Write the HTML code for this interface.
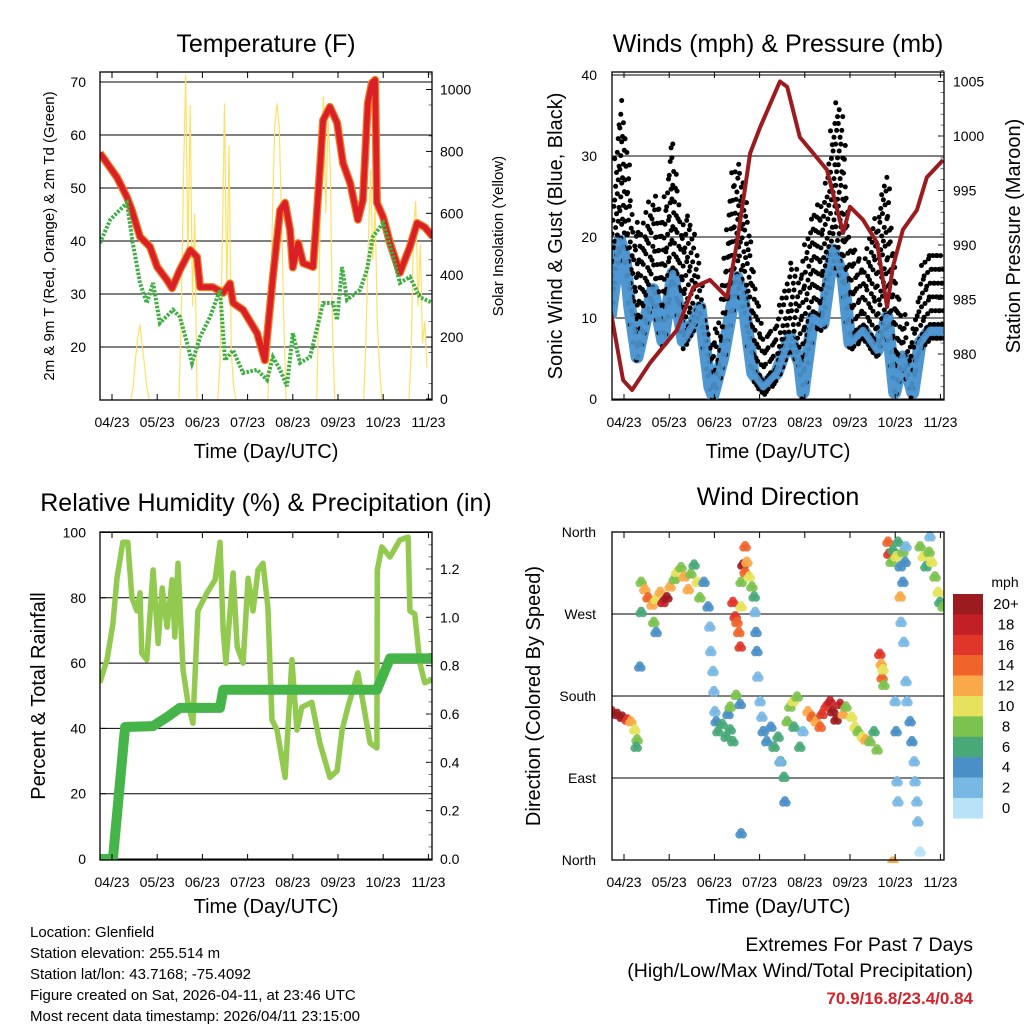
<!DOCTYPE html>
<html><head><meta charset="utf-8"><style>
html,body{margin:0;padding:0;background:#fff;}
svg{display:block;font-family:"Liberation Sans",Arial,sans-serif;}
</style></head><body>
<svg id="c" width="1024" height="1024" viewBox="0 0 1024 1024" xmlns="http://www.w3.org/2000/svg">
<rect width="1024" height="1024" fill="#fff"/>
</svg>
<script>
// ---------- DATA ----------
const dayLabels = ["04/23","05/23","06/23","07/23","08/23","09/23","10/23","11/23"];
const tempT = [-0.27,0.11,0.33,0.44,0.62,0.84,1.0,1.22,1.33,1.5,1.73,1.88,1.95,2.23,2.46,2.61,2.68,2.9,3.21,3.38,3.56,3.72,3.83,3.94,4.0,4.12,4.23,4.45,4.6,4.67,4.82,4.98,5.11,5.27,5.44,5.55,5.66,5.75,5.82,5.86,6.0,6.15,6.37,6.59,6.75,6.92,7.1];
const tempV = [56.6,52,48.3,45.8,40.8,38.9,35.1,32.6,31.1,34.5,38.3,37,31.3,31.3,30.2,32,28.3,27,22.6,17.5,33.2,45.8,47.2,42,35,39.6,35.8,35.1,53.4,62.8,65.3,62.3,54.7,50.9,44,47.7,66,69.8,70.4,47.2,44.5,39.6,34,38.9,43.4,42.6,40.8];
const dewT = [-0.27,-0.04,0.33,0.46,0.62,0.77,0.91,1.06,1.35,1.5,1.66,1.77,1.95,2.17,2.39,2.5,2.68,2.9,3.21,3.43,3.56,3.72,3.87,4.0,4.16,4.38,4.67,4.89,4.98,5.09,5.2,5.49,5.64,5.77,6.0,6.22,6.37,6.59,6.81,7.1];
const dewV = [39.6,44,47.2,39.6,32.1,28.3,32.1,24.5,27,25.7,20.8,17,21.9,25.7,30.8,17.5,19.4,15.1,15.7,13.8,18.1,15.7,12.6,22.6,17,18.1,28.3,28.3,25.1,35.1,28.9,30.8,34.5,40.8,43.4,37,32.1,33.2,29.4,28.3];
const solarPeaks = [0.62,1.68,2.54,3.65,4.73,5.77,6.77];
const solarDays = [[0,40,130,200,240,170,110,40,0],[0,250,700,1050,450,950,300,600,0],[0,120,500,955,350,820,150,40,0],[0,250,600,880,955,880,600,250,0],[0,350,800,980,600,900,750,200,0],[0,200,500,740,450,620,250,100,0],[0,150,550,640,300,500,180,250,100]];
const presT = [-0.31,-0.02,0.18,0.58,1.17,1.53,1.9,2.28,2.5,2.79,3.01,3.45,3.61,3.89,4.27,4.49,4.85,5.0,5.29,5.6,5.82,5.95,6.17,6.48,6.7,7.06];
const presV = [984.3,977.6,976.7,979.2,982.2,986.1,986.8,985.2,990.2,998.4,1000.8,1005,1004.5,999.9,998,996.9,991.1,993.5,992.3,990.2,984.3,988,991.4,993.2,996.2,997.8];
const windT = [-0.31,-0.09,0.02,0.13,0.29,0.42,0.64,0.86,1.08,1.31,1.53,1.68,1.9,1.97,2.19,2.5,2.63,2.85,3.08,3.38,3.67,3.89,3.96,4.18,4.4,4.62,4.85,5.0,5.29,5.6,5.82,5.99,6.17,6.39,6.55,6.77,7.06];
const windV = [10,19.5,17.5,11.3,5.2,8.5,13.5,7.2,15.5,7.2,9.3,11.3,1.5,0.5,5.2,15,12.5,3.2,1.5,3.2,7.6,4.4,0.8,10.1,9.3,18.4,15,6.9,8.5,6,10.1,0.8,5.2,0.8,6.9,8.5,8.5];
const gustT = [-0.31,-0.09,0.07,0.2,0.42,0.64,0.86,1.06,1.24,1.46,1.68,1.9,2.12,2.41,2.63,2.85,3.08,3.38,3.67,3.89,4.12,4.4,4.71,4.85,5.0,5.29,5.6,5.82,6.04,6.33,6.55,6.77,7.06];
const gustV = [20,38,32,22,22,26,23.3,33,23.3,23,16,7.7,10.6,30,28,17.5,7.7,10.6,17.2,16,22.5,25,38.5,34,20,16.8,23.3,28.6,14.3,7.7,16,18.8,17.5];
const rhT = [-0.27,-0.11,0.02,0.11,0.24,0.35,0.44,0.55,0.62,0.66,0.77,0.91,1.02,1.11,1.22,1.33,1.39,1.46,1.57,1.68,1.79,1.9,2.1,2.28,2.39,2.46,2.52,2.68,2.77,2.9,3.01,3.12,3.23,3.34,3.45,3.54,3.65,3.83,3.98,4.09,4.2,4.42,4.6,4.82,4.98,5.09,5.22,5.44,5.71,5.86,5.87,5.97,6.15,6.37,6.55,6.59,6.7,6.81,6.92,7.1];
const rhV = [54,61,72,86,97,97,80,76,81.5,63,61,88.5,66,83,71,85.5,68,90.6,58,48,41.6,76,81.5,85.5,97,70,60,87.6,65,60,86,76,88.5,90.6,77,42.6,39.5,25,61,39.5,46.5,48,35.5,25,27,39.5,46.5,57,35.5,34,88.5,95.6,92.5,97.7,98.6,76,75,60,54,55];
const rainT = [-0.27,0.02,0.29,0.91,1.22,1.5,2.39,2.46,5.86,6.15,7.1];
const rainV = [0,0,0.546,0.55,0.587,0.625,0.625,0.70,0.70,0.83,0.83];
const dirT = [-0.27,-0.15,-0.04,0.07,0.15,0.24,0.29,0.27, 0.38,0.46,0.53,0.62,0.71,0.80,0.86,0.95,1.02,1.11,1.17,1.26,1.33,1.42,1.48,1.55,1.62,1.68,1.77,0.38,0.66,0.71,0.35, 1.86,1.90,1.92,1.97,1.99,2.01, 2.04,2.08,2.17,2.26,2.35,2.41,2.30,2.35,2.48,2.57, 2.41,2.46,2.50,2.54,2.57,2.59,2.59,2.63,2.68,2.68,2.72,2.77,2.83,2.88, 2.90,2.92,2.94,2.96,3.01,3.05, 3.08,3.16,3.25,3.32,3.41,3.47,3.54,3.56,3.45,3.61,3.67,3.74,3.83,3.76,3.89,3.96, 4.07,4.16,4.25,4.34,4.38,4.47,4.56,4.62,4.69,4.78,4.85,4.91, 5.04,5.11,5.18,5.27,5.35,5.44,5.53,5.60, 5.66,5.69,5.71,5.75,5.73, 5.84,5.86,5.91,5.95,6.02,6.06,6.11,6.17,6.22,6.24,6.11,6.17,5.95, 6.00,6.02,6.04,6.06,6.13,6.19,6.24,6.26,6.33,6.37,6.42,6.44,6.48,6.50,6.55, 6.55,6.62,6.68,6.75,6.81,6.88,6.95,6.99,7.06,6.77, 2.59];
const dirV = [165,162,159,156,154,145,134,126, 307,299,290,282,288,296,285,290,302,310,318,323,313,299,316,326,307,290,307,274,263,252,214, 280,258,231,209,187,165, 154,143,151,137,145,132,162,170,183,173, 285,269,263,252,236,280,307,326,318,346,329,313,302,291, 274,252,231,203,176,159, 143,132,148,126,137,110,93,66,110,154,170,176,181,148,126,143, 165,159,154,148,162,170,176,165,156,173,162,170, 159,148,143,137,134,132,143,123, 228,217,202,194,211, 351,338,329,342,335,351,324,340,329,346,291,307,0, 176,143,88,66,263,241,198,176,154,132,110,88,66,44,11, 346,335,324,340,329,313,296,285,280,357, 31];
const dirS = [18,20,20,16,12,10,8,6, 8,12,14,12,10,12,18,20,12,8,10,8,12,12,8,6,10,8,4,6,8,4,4, 4,2,2,2,2,2, 4,6,6,6,6,6,4,8,8,4, 16,16,14,14,16,10,8,20,14,14,12,10,8,6, 2,4,4,2,2,2, 4,4,4,6,6,6,6,4,2,8,8,10,8,6,6,2, 12,14,12,14,16,16,18,20,20,18,12,8, 10,10,8,10,12,8,6,8, 16,12,14,8,10, 14,16,8,6,10,6,4,8,4,2,12,4,12, 2,4,2,2,2,2,2,2,4,4,2,2,2,2,0, 8,10,6,8,10,8,10,6,8,2, 4];
const speedLabels = ["20+","18","16","14","12","10","8","6","4","2","0"];
const speedColors = ["#9b1b1e","#c21f27","#e0362a","#f0642a","#f9a94a","#e6e25c","#7cc24e","#48a878","#4a8fc6","#7ab8e4","#b8e2f7"];

// ---------- HELPERS ----------
const NS="http://www.w3.org/2000/svg";
const svg=document.getElementById('c');
function mk(tag,attrs,parent){const e=document.createElementNS(NS,tag);for(const k in attrs)e.setAttribute(k,attrs[k]);(parent||svg).appendChild(e);return e;}
function txt(s,x,y,size,anchor,parent,extra){const e=mk('text',Object.assign({x:x,y:y,'font-size':size,'text-anchor':anchor||'start',fill:'#000'},extra||{}),parent);e.textContent=s;return e;}
function grp(name){const g=mk('g',{});return g;}
function interp(ts,vs,t){if(t<=ts[0])return vs[0];for(let i=1;i<ts.length;i++){if(t<=ts[i]){const f=(t-ts[i-1])/(ts[i]-ts[i-1]);return vs[i-1]+f*(vs[i]-vs[i-1]);}}return vs[vs.length-1];}
function pathFrom(ts,vs,xf,yf){return ts.map((t,i)=>(i?'L':'M')+xf(t).toFixed(1)+','+yf(vs[i]).toFixed(1)).join(' ');}

function frame(L,T,R,B,name){
  const g=grp(name);
  mk('rect',{x:L,y:T,width:R-L,height:B-T,fill:'none',stroke:'#000','stroke-width':1.3},g);
  return g;
}
function xAxis(L,R,T,B,x0,title,name,titleOff){
  const g=grp(name);
  dayLabels.forEach((lab,i)=>{
    const x=x0+i*45.2;
    mk('line',{x1:x,y1:B,x2:x,y2:B-6,stroke:'#000','stroke-width':1},g);
    mk('line',{x1:x,y1:T,x2:x,y2:T+6,stroke:'#000','stroke-width':1},g);
    const t=txt(lab,x,B+27,14,'middle',g);
    
    
  });
  const tt=txt(title,(L+R)/2,B+titleOff,20,'middle',g);
  
  
}
function yTicks(vals,labels,yf,x,side,lx,g,grid,L,R){
  vals.forEach((v,i)=>{
    const y=yf(v);
    if(grid) mk('line',{x1:L,y1:y,x2:R,y2:y,stroke:'#000','stroke-width':1},g);
    mk('line',{x1:x,y1:y,x2:x+(side==='left'?6:-6),y2:y,stroke:'#000','stroke-width':1},g);
    const t=txt(labels[i],lx,y+5,14,side==='left'?'end':'start',g);
    
    
  });
}
function minorTicks(vals,yf,x,dir,g){vals.forEach(v=>{const y=yf(v);mk('line',{x1:x,y1:y,x2:x+dir*3.5,y2:y,stroke:'#555','stroke-width':0.8},g);});}
function vTitle(s,x,y,size,g){const t=txt(s,x,y,size,'middle',g,{transform:'rotate(-90 '+x+' '+y+')'});return t;}

// ---------- TITLES ----------
[["Temperature (F)",266,52,"temperature-title"],["Winds (mph) & Pressure (mb)",778,52,"winds-title"],["Relative Humidity (%) & Precipitation (in)",266,511,"humidity-title"],["Wind Direction",778,505,"wind-direction-title"]].forEach(a=>{
  const t=txt(a[0],a[1],a[2],25,'middle');
  
  
});

// ---------- PANEL 1: TEMPERATURE ----------
(function(){
  const L=100,R=432,T=72,B=400;
  const xf=t=>112+t*45.2, yL=v=>347-(v-20)*5.3, yR=v=>399-v*0.3095;
  const cp=mk('clipPath',{id:'cp1'});mk('rect',{x:L,y:T,width:R-L,height:B-T},cp);
  const ax=grp('temperature-axes');
  yTicks([20,30,40,50,60,70],["20","30","40","50","60","70"],yL,L,'left',86,ax,true,L,R);
  yTicks([0,200,400,600,800,1000],["0","200","400","600","800","1000"],yR,R,'right',440,ax,false);
  const mv=[];for(let v=50;v<1060;v+=100)mv.push(v);minorTicks(mv,yR,R,-1,ax);
  const d=grp('temperature-series');d.setAttribute('clip-path','url(#cp1)');
  let sp='';
  solarPeaks.forEach((p,di)=>{solarDays[di].forEach((v,k)=>{const t=p+(k-4)*0.05;sp+=(k?'L':'M')+xf(t).toFixed(1)+','+yR(v).toFixed(1)+' ';});});
  const s=mk('path',{d:sp,fill:'none',stroke:'#ffe066','stroke-width':1.2},d);
  
  
  const o=mk('path',{d:pathFrom(tempT,tempV,xf,yL),fill:'none',stroke:'#f47a20','stroke-width':8,'stroke-linejoin':'round'},d);
  
  
  const r=mk('path',{d:pathFrom(tempT,tempV,xf,yL),fill:'none',stroke:'#d92027','stroke-width':5.5,'stroke-linejoin':'round'},d);
  
  
  const gd=mk('path',{d:pathFrom(dewT,dewV,xf,yL),fill:'none',stroke:'#3fae43','stroke-width':4,'stroke-dasharray':'2.5 1.5'},d);
  
  
  frame(L,T,R,B,'temperature-frame');
  xAxis(L,R,T,B,112,'Time (Day/UTC)','temperature-x-axis',58);
  vTitle('2m & 9m T (Red, Orange) & 2m Td (Green)',54,236,15,ax);
  vTitle('Solar Insolation (Yellow)',503,236,15,ax);
})();

// ---------- PANEL 2: WINDS ----------
(function(){
  const L=612,R=944,T=72,B=400;
  const xf=t=>624+t*45.2, yL=v=>399-v*8.1, yR=p=>354-(p-980)*10.9;
  const cp=mk('clipPath',{id:'cp2'});mk('rect',{x:L,y:T,width:R-L,height:B-T},cp);
  const ax=grp('winds-axes');
  yTicks([0,10,20,30,40],["0","10","20","30","40"],yL,L,'left',597,ax,true,L,R);
  yTicks([980,985,990,995,1000,1005],["980","985","990","995","1000","1005"],yR,R,'right',953,ax,false);
  const mv=[];for(let p=977;p<=1006;p++)mv.push(p);minorTicks(mv,yR,R,-1,ax);
  const d=grp('winds-series');d.setAttribute('clip-path','url(#cp2)');
  const bl=mk('path',{d:pathFrom(windT,windV,xf,yL),fill:'none',stroke:'#4f97d1','stroke-width':13,'stroke-linejoin':'round'},d);
  
  
  const dots=grp('gust-points');d.appendChild(dots);
  let k=0;
  for(let px=L+1;px<R;px+=2.6){
    const t=(px-624)/45.2;const w=interp(windT,windV,t), gv=interp(gustT,gustV,t);
    for(let v=w-1;v<=gv;v+=1.7){k++;mk('circle',{cx:(px+((k%3)-1)*0.9).toFixed(1),cy:yL(v).toFixed(1),r:2.5,fill:'#000'},dots);}
  }
  mk('path',{d:pathFrom(windT,windV,xf,yL),fill:'none',stroke:'#4f97d1','stroke-width':7,'stroke-linejoin':'round','opacity':0.9},d);
  const pr=mk('path',{d:pathFrom(presT,presV,xf,yR),fill:'none',stroke:'#9b1b1e','stroke-width':4,'stroke-linejoin':'round'},d);
  
  
  frame(L,T,R,B,'winds-frame');
  xAxis(L,R,T,B,624,'Time (Day/UTC)','winds-x-axis',58);
  vTitle('Sonic Wind & Gust (Blue, Black)',562,236,20,ax);
  vTitle('Station Pressure (Maroon)',1020,236,20,ax);
})();

// ---------- PANEL 3: HUMIDITY ----------
(function(){
  const L=100,R=432,T=532,B=860;
  const xf=t=>112+t*45.2, yL=v=>859-v*3.265, yR=p=>859-p*241.7;
  const cp=mk('clipPath',{id:'cp3'});mk('rect',{x:L,y:T,width:R-L,height:B-T},cp);
  const ax=grp('humidity-axes');
  yTicks([0,20,40,60,80,100],["0","20","40","60","80","100"],yL,L,'left',86,ax,true,L,R);
  yTicks([0,0.2,0.4,0.6,0.8,1.0,1.2],["0.0","0.2","0.4","0.6","0.8","1.0","1.2"],yR,R,'right',440,ax,false);
  const mv=[];for(let p=0.05;p<1.35;p+=0.05)mv.push(p);minorTicks(mv,yR,R,-1,ax);
  const d=grp('humidity-series');d.setAttribute('clip-path','url(#cp3)');
  const rh=mk('path',{d:pathFrom(rhT,rhV,xf,yL),fill:'none',stroke:'#92c94f','stroke-width':5.5,'stroke-linejoin':'round'},d);
  
  
  const rn=mk('path',{d:pathFrom(rainT,rainV,xf,yR),fill:'none',stroke:'#45b449','stroke-width':10,'stroke-linejoin':'round'},d);
  
  
  frame(L,T,R,B,'humidity-frame');
  xAxis(L,R,T,B,112,'Time (Day/UTC)','humidity-x-axis',53);
  vTitle('Percent & Total Rainfall',45,696,20,ax);
})();

// ---------- PANEL 4: DIRECTION ----------
(function(){
  const L=612,R=944,T=532,B=860;
  const xf=t=>624+t*45.2, yD=d=>860-d*0.911;
  const cp=mk('clipPath',{id:'cp4'});mk('rect',{x:L,y:T-3,width:R-L,height:B-T+6},cp);
  const ax=grp('direction-axes');
  yTicks([0,90,180,270,360],["North","East","South","West","North"],yD,L,'left',596,ax,true,L,R);
  const d=grp('direction-points');d.setAttribute('clip-path','url(#cp4)');
  const offs=[[0,0],[-2,3],[2,3]];
  dirT.forEach((t,i)=>{
    const s=dirS[i];const ci=10-Math.min(10,Math.round(s/2));
    offs.forEach(o=>{
      const c=mk('circle',{cx:(xf(t)+o[0]).toFixed(1),cy:(yD(dirV[i])+o[1]).toFixed(1),r:3.8,fill:speedColors[ci],'fill-opacity':0.9},d);
      
      
    });
  });
  frame(L,T,R,B,'direction-frame');
  xAxis(L,R,T,B,624,'Time (Day/UTC)','direction-x-axis',53);
  vTitle('Direction (Colored By Speed)',540,696,20,ax);
  const lg=grp('speed-colorbar');
  txt('mph',1005,587,14,'middle',lg);
  speedLabels.forEach((lab,i)=>{
    const y=594+i*20.4;
    const r=mk('rect',{x:953,y:y,width:30,height:20.6,fill:speedColors[i]},lg);
    
    
    const t=txt(lab,1006,y+15,15,'middle',lg);
    
    
  });
})();

// ---------- FOOTER ----------
(function(){
  const g=grp('station-info');
  ["Location: Glenfield","Station elevation: 255.514 m","Station lat/lon: 43.7168; -75.4092","Figure created on Sat, 2026-04-11, at 23:46 UTC","Most recent data timestamp: 2026/04/11 23:15:00"].forEach((s,i)=>{
    const t=txt(s,30,937+i*21,15,'start',g);
    
    
  });
  const e=grp('extremes-summary');
  txt('Extremes For Past 7 Days',973,951,19.5,'end',e);
  txt('(High/Low/Max Wind/Total Precipitation)',973,977,19.5,'end',e);
  const v=txt('70.9/16.8/23.4/0.84',973,1004,17,'end',e,{fill:'#d2232a','font-weight':'bold'});
  
  
})();
</script>
</body></html>
